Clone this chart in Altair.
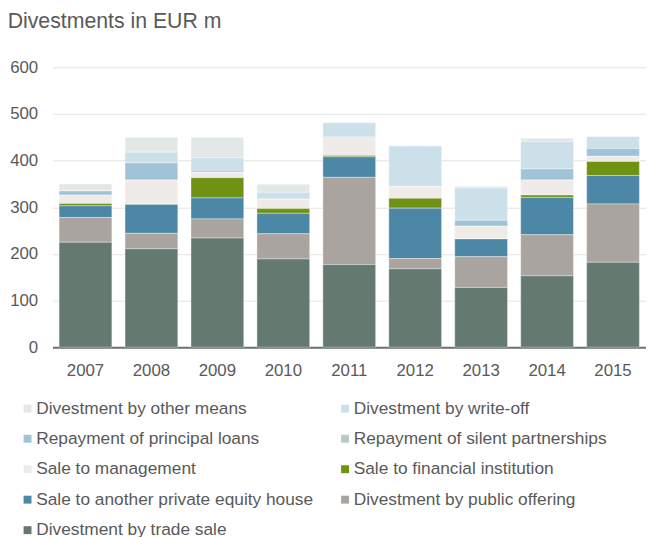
import altair as alt
import pandas as pd

years = ["2007", "2008", "2009", "2010", "2011", "2012", "2013", "2014", "2015"]

# legend order (top of stack first)
categories = [
    "Divestment by other means",
    "Divestment by write-off",
    "Repayment of principal loans",
    "Repayment of silent partnerships",
    "Sale to management",
    "Sale to financial institution",
    "Sale to another private equity house",
    "Divestment by public offering",
    "Divestment by trade sale",
]
colors = ["#e3e8e6", "#cce0ea", "#9fc4d8", "#b9c9c5", "#efebe8",
          "#6f9212", "#4d87a6", "#a9a4a0", "#647a70"]

other_means   = [15, 32, 44, 17, 0, 1, 4, 7, 1]
write_off     = [0, 23, 27, 15, 30, 87, 69, 59, 25]
principal     = [9, 37, 4, 0, 2, 0, 13, 24, 17]
silent        = [1, 0, 0, 0, 1, 0, 0, 0, 0]
management    = [17, 51, 12, 20, 37, 25, 27, 32, 11]
fin_inst      = [5, 1, 43, 10, 3, 21, 0, 5, 30]
pe_house      = [25, 62, 45, 44, 44, 108, 38, 80, 61]
public_offer  = [53, 33, 41, 54, 187, 22, 66, 88, 125]
trade_sale    = [225, 211, 234, 189, 177, 168, 128, 153, 182]

series = [other_means, write_off, principal, silent, management,
          fin_inst, pe_house, public_offer, trade_sale]

rows = []
for ci, (cat, vals) in enumerate(zip(categories, series)):
    for y, v in zip(years, vals):
        rows.append({"year": y, "category": cat, "value": v,
                     "order": len(categories) - 1 - ci})
df = pd.DataFrame(rows)

FONT = "Liberation Sans"
GREY = "#595959"

chart = alt.Chart(df).mark_bar(
    stroke="white", strokeWidth=0.6, strokeOpacity=0.6
).encode(
    x=alt.X("year:N", title=None, sort=years,
            scale=alt.Scale(paddingInner=0.2, paddingOuter=0.1),
            axis=alt.Axis(labelAngle=0, ticks=False, domain=True,
                          domainColor="#6a7274", domainWidth=2,
                          labelPadding=16, labelFontSize=17,
                          labelColor=GREY, labelFont=FONT, grid=False)),
    y=alt.Y("sum(value):Q", title=None,
            scale=alt.Scale(domain=[0, 600], nice=False),
            axis=alt.Axis(values=[0, 100, 200, 300, 400, 500, 600],
                          ticks=False, domain=False, labelPadding=15,
                          labelFontSize=17, labelColor=GREY, labelFont=FONT,
                          gridColor="#e3e3e3", gridWidth=1)),
    color=alt.Color("category:N",
                    scale=alt.Scale(domain=categories, range=colors),
                    legend=alt.Legend(title=None, orient="none",
                                      direction="horizontal",
                                      legendX=-34, legendY=336,
                                      columns=2, symbolType="square",
                                      symbolSize=64, symbolStrokeWidth=0,
                                      labelFontSize=17.5, labelColor=GREY,
                                      labelFont=FONT, labelOffset=0,
                                      labelLimit=400,
                                      rowPadding=11.8, columnPadding=23)),
    order=alt.Order("order:Q", sort="ascending"),
).properties(
    width=600,
    height=283,
    padding={"left": 45, "top": 57, "right": 0, "bottom": 189},
    autosize=alt.AutoSizeParams(type="none"),
    title=alt.TitleParams("Divestments in EUR m", anchor="start",
                          fontSize=21.5, fontWeight="normal", color=GREY,
                          font=FONT, dx=-2, offset=26),
).configure_view(stroke=None)

chart.save("out.html", embed_options={"renderer": "svg", "actions": False})
